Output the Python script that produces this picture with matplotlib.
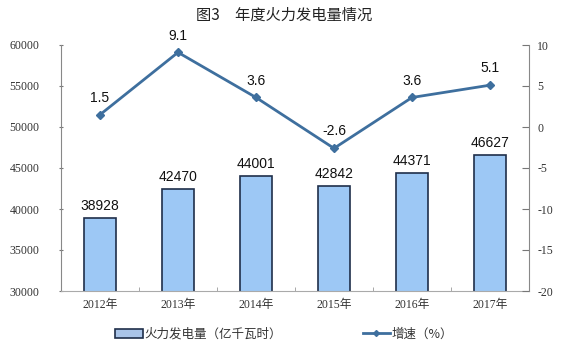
import matplotlib
matplotlib.use("Agg")
import matplotlib.pyplot as plt
from matplotlib.patches import Patch
from matplotlib.lines import Line2D

years = ["2012年", "2013年", "2014年", "2015年", "2016年", "2017年"]
power = [38928, 42470, 44001, 42842, 44371, 46627]
growth = [1.5, 9.1, 3.6, -2.6, 3.6, 5.1]
left_ticks = [30000, 35000, 40000, 45000, 50000, 55000, 60000]
right_ticks = [-20, -15, -10, -5, 0, 5, 10]

plt.rcParams["axes.unicode_minus"] = False
cjk = ["Noto Sans CJK SC", "DejaVu Sans"]
serif_cjk = ["Liberation Serif", "Noto Sans CJK SC"]
bar_color = "#9DC8F5"
edge_color = "#1F2F4A"
line_color = "#3E6F9E"
text_color = "#333333"

fig = plt.figure(figsize=(5.68, 3.52), dpi=100)
ax = fig.add_axes([61 / 568, 1 - 291 / 352, 468 / 568, 246 / 352])
x = list(range(len(years)))

ax.bar(x, power, width=0.4, color=bar_color, edgecolor=edge_color, linewidth=1.2, zorder=2)
for xi, v in zip(x, power):
    ax.text(xi, v + 600, str(v), ha="center", va="bottom", fontsize=10,
            family="Liberation Sans", color="#111111")

ax.set_xlim(-0.5, len(years) - 0.5)
ax.set_ylim(30000, 60000)
ax.set_yticks(left_ticks)
ax.set_yticklabels([str(t) for t in left_ticks], family="Liberation Serif",
                   fontsize=8.5, color=text_color)
ax.set_xticks(x)
ax.set_xticklabels(years, family=serif_cjk, fontsize=8.5, color=text_color)
ax.set_xticks([i + 0.5 for i in x[:-1]], minor=True)
ax.tick_params(axis="x", which="major", length=0, pad=6)
ax.tick_params(axis="x", which="minor", length=3, direction="in", color="#999999")
ax.tick_params(axis="y", length=3, direction="inout", color="#777777", pad=14)
ax.spines["top"].set_visible(False)
ax.spines["right"].set_visible(False)
ax.spines["left"].set_color("#888888")
ax.spines["bottom"].set_color("#aaaaaa")

ax2 = ax.twinx()
ax2.plot(x, growth, color=line_color, linewidth=2, marker="D", markersize=4, zorder=3)
for xi, v in zip(x, growth):
    ax2.text(xi, v + 1.2, f"{v:.1f}", ha="center", va="bottom", fontsize=10,
             family="Liberation Sans", color="#111111")
ax2.set_ylim(-20, 10)
ax2.set_yticks(right_ticks)
ax2.set_yticklabels([str(t) for t in right_ticks], family="Liberation Serif",
                    fontsize=8.5, color=text_color)
ax2.tick_params(axis="y", length=5, direction="in", color="#777777", pad=6)
for s in ["top", "left", "bottom"]:
    ax2.spines[s].set_visible(False)
ax2.spines["right"].set_color("#888888")

fig.text(0.5, 1 - 15 / 352, "图3　年度火力发电量情况", ha="center", va="center",
         fontsize=11, family=cjk, color="#222222")

handles = [Patch(facecolor="#A9C4E8", edgecolor=edge_color, linewidth=1.2),
           Line2D([0], [0], color=line_color, linewidth=2, marker="D", markersize=3)]
fig.legend(handles, ["火力发电量（亿千瓦时）", "增速（%）"], loc="center",
           bbox_to_anchor=(0.5, 1 - 334 / 352), ncol=2, frameon=False,
           prop={"family": cjk, "size": 9}, labelcolor="#333333",
           handlelength=2.2, handletextpad=0.1, columnspacing=6.5)

fig.savefig("out.png", dpi=100)
